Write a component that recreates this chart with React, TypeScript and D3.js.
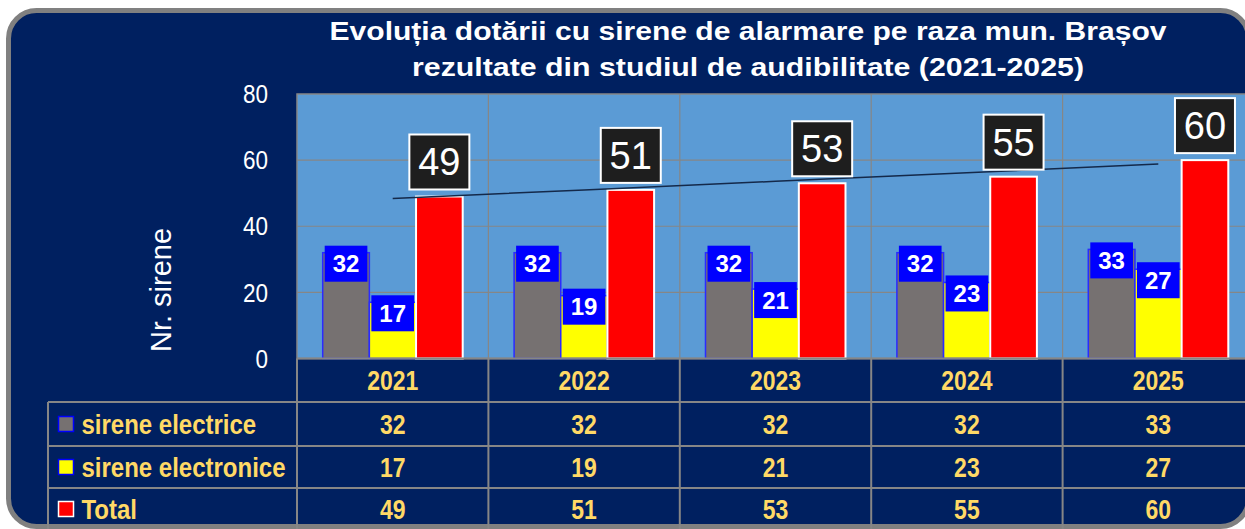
import React from 'react';
import * as d3 from 'd3';

const years = ['2021', '2022', '2023', '2024', '2025'];
const electrice = [32, 32, 32, 32, 33];
const electronice = [17, 19, 21, 23, 27];
const total = [49, 51, 53, 55, 60];
const yTicks = [0, 20, 40, 60, 80];
const seriesNames = ['sirene electrice', 'sirene electronice', 'Total'];
const titleLines = [
  'Evoluția dotării cu sirene de alarmare pe raza mun. Brașov',
  'rezultate din studiul de audibilitate (2021-2025)',
];

const W = 1245, H = 529;
const NAVY = '#002060';
const PLOT_BG = '#5b9bd5';
const GRID = '#868686';
const GOLD = '#ffd966';
const FONT = '"Liberation Sans", Arial, sans-serif';

const plot = { left: 297, right: 1254, top: 94, bottom: 358.5 };
const rowLines = [358.5, 402, 446, 488, 530];
const legendLeft = 48;

const series = [
  { name: seriesNames[0], values: electrice, fill: '#767171', stroke: '#2b2bff' },
  { name: seriesNames[1], values: electronice, fill: '#ffff00', stroke: '#2b2bff' },
  { name: seriesNames[2], values: total, fill: '#ff0000', stroke: '#ffffff' },
];

export default function App() {
  const x = d3.scaleBand<string>().domain(years).range([plot.left, plot.right]).padding(0);
  const bw = x.bandwidth();
  const inner = d3.scaleBand<number>().domain([0, 1, 2]).range([bw / 2 - 70, bw / 2 + 70]).padding(0);
  const y = d3.scaleLinear().domain([0, 80]).range([plot.bottom, plot.top]);

  // linear trend of totals (least squares)
  const idx = total.map((_, i) => i);
  const mx = d3.mean(idx)!, my = d3.mean(total)!;
  const slope = d3.sum(idx, i => (i - mx) * (total[i] - my)) / d3.sum(idx, i => (i - mx) ** 2);
  const icpt = my - slope * mx;
  const trend = d3.line<number>()
    .x(i => x(years[i])! + bw / 2)
    .y(i => y(icpt + slope * i));

  const stretched = (tx: number, ty: number) => `translate(${tx},${ty}) scale(1,1.18)`;

  return (
    <svg width={W} height={H} style={{ position: 'absolute', left: 0, top: 0 }} fontFamily={FONT}>
      <rect width={W} height={H} fill="#ffffff" />
      <rect x={8.5} y={10.5} width={1240} height={516} rx={28} fill={NAVY} stroke="#808080" strokeWidth={5} />

      {/* title */}
      {titleLines.map((t, i) => (
        <text key={i} x={748} y={i === 0 ? 40 : 76} textAnchor="middle" fill="#fff"
          fontWeight="bold" fontSize={25} textLength={i === 0 ? 837 : 672}
          lengthAdjust="spacingAndGlyphs">{t}</text>
      ))}

      {/* plot area */}
      <rect x={plot.left} y={plot.top} width={plot.right - plot.left} height={plot.bottom - plot.top}
        fill={PLOT_BG} stroke={GRID} strokeWidth={1.5} />
      {yTicks.slice(1, -1).map(t => (
        <line key={t} x1={plot.left} x2={plot.right} y1={y(t)} y2={y(t)} stroke={GRID} strokeWidth={1.2} />
      ))}
      {years.slice(1).map(yr => (
        <line key={yr} x1={x(yr)} x2={x(yr)} y1={plot.top} y2={plot.bottom} stroke={GRID} strokeWidth={1.2} />
      ))}

      {/* y axis */}
      {yTicks.map(t => (
        <text key={t} x={0} y={0} transform={stretched(268, y(t))} textAnchor="end"
          dominantBaseline="central" fill="#fff" fontSize={22.5}>{t}</text>
      ))}
      <text transform={`translate(161,290) rotate(-90)`} textAnchor="middle" dominantBaseline="central"
        fill="#fff" fontSize={29}>Nr. sirene</text>

      {/* bars */}
      {years.map((yr, i) => (
        <g key={yr} transform={`translate(${x(yr)},0)`}>
          {series.map((s, k) => (
            <rect key={k} x={inner(k)} y={y(s.values[i])} width={inner.bandwidth()}
              height={y(0) - y(s.values[i])} fill={s.fill} stroke={s.stroke}
              strokeWidth={k === 2 ? 2 : 1.5} />
          ))}
        </g>
      ))}

      <path d={trend(idx)!} fill="none" stroke="#14294a" strokeWidth={1.5} />

      {/* data labels */}
      {years.map((yr, i) => (
        <g key={yr} transform={`translate(${x(yr)},0)`}>
          {series.slice(0, 2).map((s, k) => {
            const top = y(s.values[i]) - 7;
            return (
              <g key={k}>
                <rect x={inner(k)! + 2} y={top} width={inner.bandwidth() - 4} height={36} fill="#0000ff" />
                <text x={inner(k)! + inner.bandwidth() / 2} y={top + 18} textAnchor="middle"
                  dominantBaseline="central" fill="#fff" fontWeight="bold" fontSize={24}>{s.values[i]}</text>
              </g>
            );
          })}
          {(() => {
            const cx = inner(2)! + inner.bandwidth() / 2;
            const bottom = y(total[i]) - 7;
            return (
              <g>
                <rect x={cx - 30} y={bottom - 55} width={60} height={55} fill="#1e1e1e" stroke="#fff" strokeWidth={2} />
                <text x={cx} y={bottom - 27} textAnchor="middle" dominantBaseline="central"
                  fill="#fff" fontSize={38}>{total[i]}</text>
              </g>
            );
          })()}
        </g>
      ))}

      {/* data table */}
      <g stroke={GRID} strokeWidth={2}>
        <line x1={plot.left} x2={plot.right} y1={rowLines[0]} y2={rowLines[0]} />
        {rowLines.slice(1).map((r, i) => (
          <line key={i} x1={legendLeft} x2={plot.right} y1={r} y2={r} />
        ))}
        <line x1={legendLeft} x2={legendLeft} y1={rowLines[1]} y2={rowLines[4]} />
        {years.map(yr => (
          <line key={yr} x1={x(yr)} x2={x(yr)} y1={rowLines[0]} y2={rowLines[4]} />
        ))}
      </g>
      {years.map(yr => (
        <text key={yr} x={0} y={0} transform={stretched(x(yr)! + bw / 2, (rowLines[0] + rowLines[1]) / 2)}
          textAnchor="middle" dominantBaseline="central" fill={GOLD} fontWeight="bold" fontSize={23}>{yr}</text>
      ))}
      {series.map((s, k) => {
        const cy = (rowLines[k + 1] + rowLines[k + 2]) / 2;
        return (
          <g key={k}>
            <rect x={58.5} y={cy - 7.5} width={15} height={15} fill={s.fill} stroke={k === 2 ? '#fff' : '#0000ff'} strokeWidth={1.5} />
            <text x={0} y={0} transform={stretched(81.5, cy)} dominantBaseline="central" fill={GOLD}
              fontWeight="bold" fontSize={24}>{s.name}</text>
            {years.map((yr, i) => (
              <text key={yr} x={0} y={0} transform={stretched(x(yr)! + bw / 2, cy)} textAnchor="middle"
                dominantBaseline="central" fill={GOLD} fontWeight="bold" fontSize={23}>{s.values[i]}</text>
            ))}
          </g>
        );
      })}
    </svg>
  );
}
